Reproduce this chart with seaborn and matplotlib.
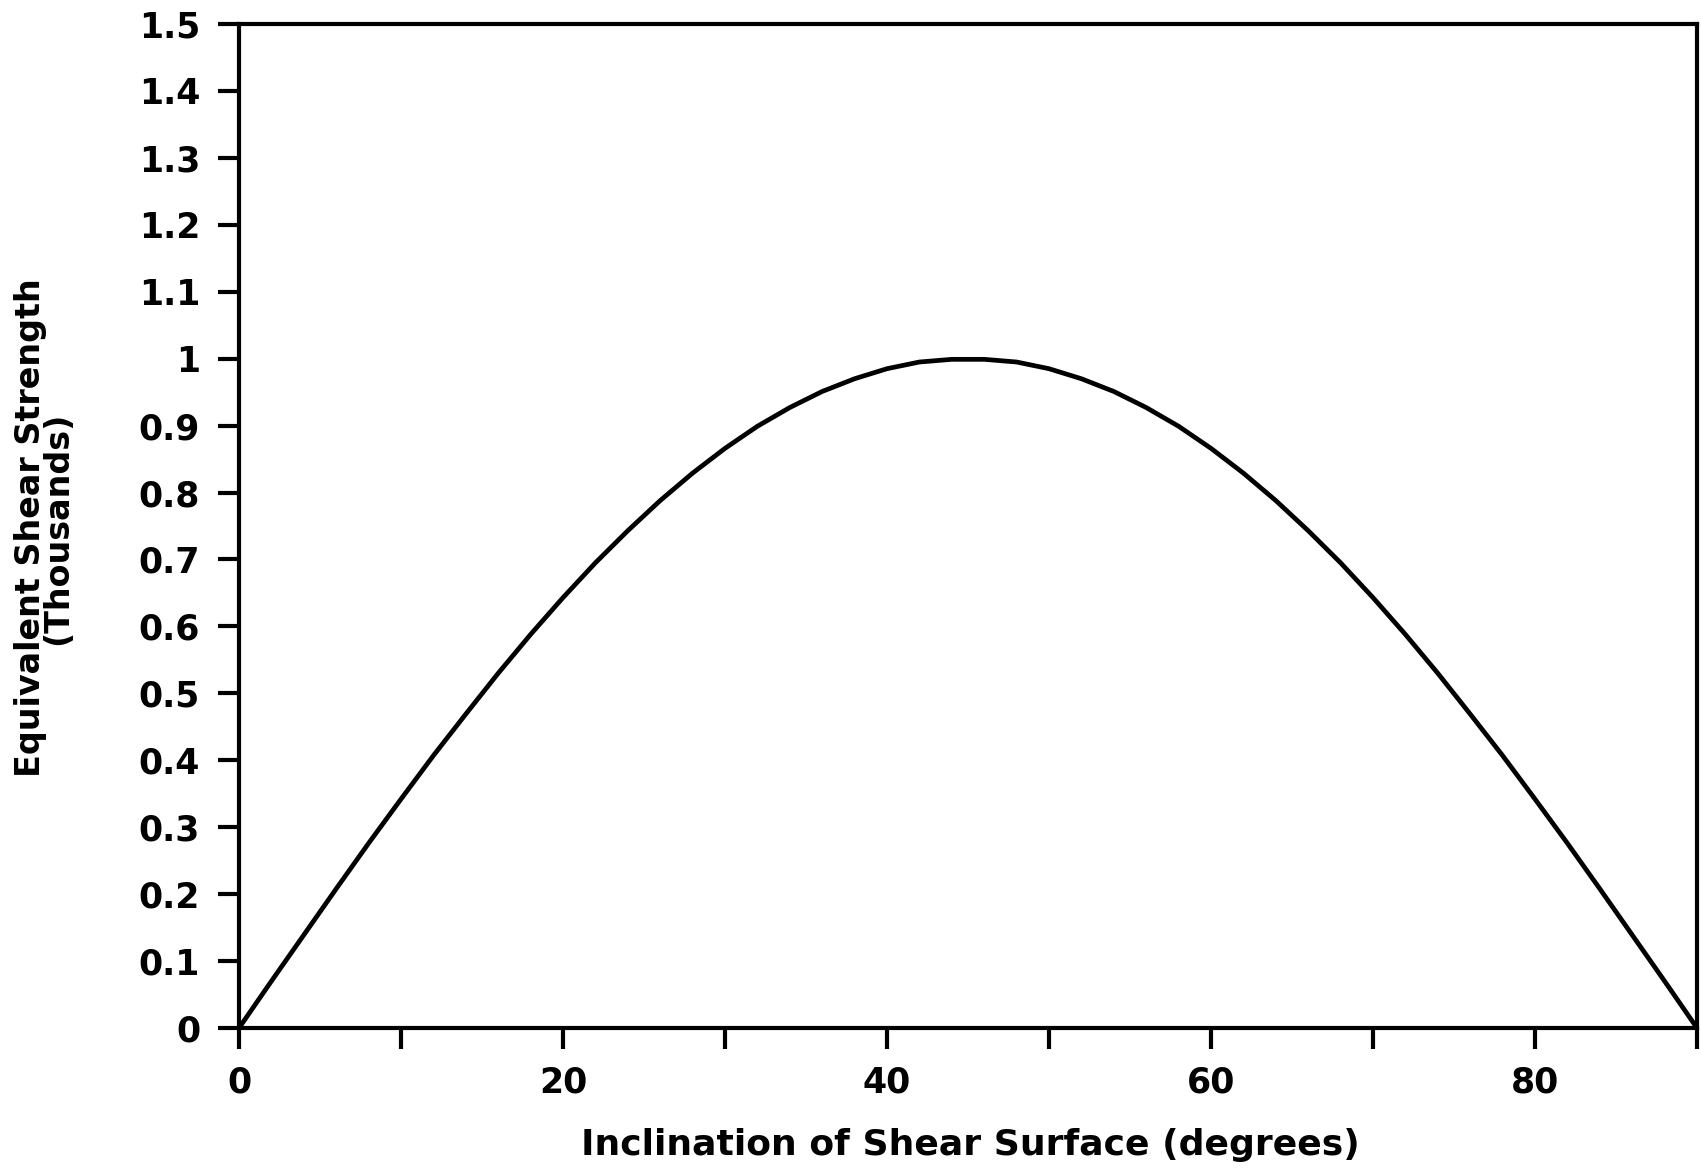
import pandas as pd
import matplotlib.pyplot as plt
import seaborn as sns

# Values (every 2 degrees)
inclination = [0, 2, 4, 6, 8, 10, 12, 14, 16, 18, 20, 22, 24, 26, 28, 30, 32, 34, 36, 38,
               40, 42, 44, 46, 48, 50, 52, 54, 56, 58, 60, 62, 64, 66, 68, 70, 72, 74, 76,
               78, 80, 82, 84, 86, 88, 90]
strength = [0.0, 0.07, 0.139, 0.208, 0.276, 0.342, 0.407, 0.469, 0.53, 0.588, 0.643,
            0.695, 0.743, 0.788, 0.829, 0.866, 0.899, 0.927, 0.951, 0.97, 0.985, 0.995,
            0.999, 0.999, 0.995, 0.985, 0.97, 0.951, 0.927, 0.899, 0.866, 0.829, 0.788,
            0.743, 0.695, 0.643, 0.588, 0.53, 0.469, 0.407, 0.342, 0.276, 0.208, 0.139,
            0.07, 0.0]
x_ticks = [0, 10, 20, 30, 40, 50, 60, 70, 80, 90]
x_labels = ['0', '', '20', '', '40', '', '60', '', '80', '']
y_ticks = [0, 0.1, 0.2, 0.3, 0.4, 0.5, 0.6, 0.7, 0.8, 0.9, 1.0, 1.1, 1.2, 1.3, 1.4, 1.5]
y_labels = ['0', '0.1', '0.2', '0.3', '0.4', '0.5', '0.6', '0.7', '0.8', '0.9', '1',
            '1.1', '1.2', '1.3', '1.4', '1.5']

df = pd.DataFrame({'Inclination': inclination, 'Strength': strength})

sns.set_style('ticks')
plt.rcParams['font.family'] = ['DejaVu Sans']
plt.rcParams['font.weight'] = 'bold'
plt.rcParams['text.color'] = 'black'

fig = plt.figure(figsize=(17.01, 11.72), dpi=100)
ax = fig.add_axes([239 / 1701, 1 - 1028 / 1172, (1697 - 239) / 1701, (1028 - 24) / 1172])

sns.lineplot(data=df, x='Inclination', y='Strength', color='black', linewidth=3.4, ax=ax)

ax.set_xlim(0, 90)
ax.set_ylim(0, 1.5)
ax.set_xticks(x_ticks)
ax.set_xticklabels(x_labels)
ax.set_yticks(y_ticks)
ax.set_yticklabels(y_labels)
ax.tick_params(axis='both', direction='out', length=15, width=3, colors='black',
               labelcolor='black', labelsize=25)
ax.tick_params(axis='x', pad=12)
ax.tick_params(axis='y', pad=13)
for s in ax.spines.values():
    s.set_linewidth(3)
    s.set_color('black')

ax.set_xlabel('')
ax.set_ylabel('')
fig.text(970 / 1701, 1 - 1145 / 1172, 'Inclination of Shear Surface (degrees)',
         ha='center', va='center', fontsize=26, fontweight='bold', color='black')
fig.text(44 / 1701, 1 - 528 / 1172, 'Equivalent Shear Strength\n(Thousands)',
         ha='center', va='center', rotation=90, fontsize=24, fontweight='bold',
         color='black', linespacing=0.8, multialignment='center')

fig.savefig('out.png', dpi=100)
